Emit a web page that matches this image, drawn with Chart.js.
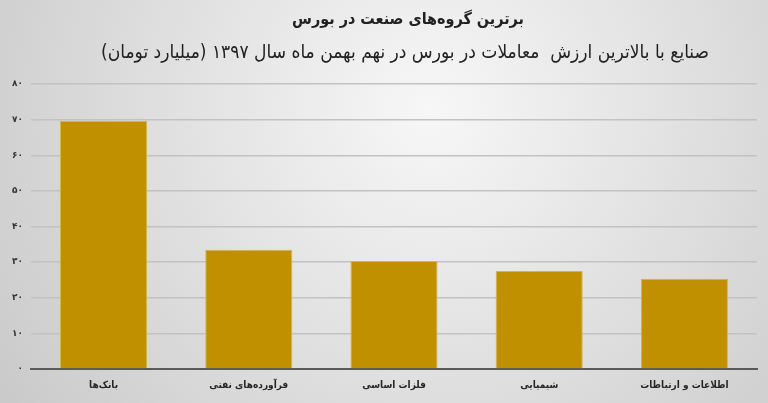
<!DOCTYPE html>
<html lang="fa">
  <head>
    <meta charset="UTF-8" />
    <title>برترین گروه‌های صنعت در بورس</title>
    <script src="https://cdn.jsdelivr.net/npm/chart.js"></script>
    <style>
      html, body { margin: 0; padding: 0; background: #d8d8d8; }
      #wrap { width: 768px; height: 403px; }
    </style>
  </head>
  <body>
    <div id="wrap"><canvas id="barChart" width="768" height="403"></canvas></div>

    <script>
      // data
      const categories = ['بانک‌ها', 'فرآورده‌های نفتی', 'فلزات اساسی', 'شیمیایی', 'اطلاعات و ارتباطات'];
      const values = [69.6, 33.5, 30.3, 27.5, 25.3];
      const yTicks = [0, 10, 20, 30, 40, 50, 60, 70, 80];
      const titleText = 'برترین گروه‌های صنعت در بورس';
      const subtitleText = 'صنایع با بالاترین ارزش  معاملات در بورس در نهم بهمن ماه سال ۱۳۹۷ (میلیارد تومان)';

      const faDigits = '۰۱۲۳۴۵۶۷۸۹';
      const toFa = n => String(n).replace(/\d/g, d => faDigits[d]);
      const fontFamily = "'DejaVu Sans', sans-serif";
      const condFamily = "'DejaVu Sans Condensed', 'DejaVu Sans', sans-serif";

      // gray radial background
      const bgPlugin = {
        id: 'bg',
        beforeDraw(chart) {
          const { ctx, width, height } = chart;
          const g = ctx.createRadialGradient(430, 110, 0, 430, 110, 560);
          g.addColorStop(0, '#f7f7f7');
          g.addColorStop(1, '#c6c6c6');
          ctx.save();
          ctx.fillStyle = g;
          ctx.fillRect(0, 0, width, height);
          ctx.restore();
        }
      };

      // titles, centred a bit right of the canvas middle as in the picture
      const titlesPlugin = {
        id: 'titles',
        afterDraw(chart) {
          const ctx = chart.ctx;
          ctx.save();
          ctx.fillStyle = '#222222';
          ctx.textAlign = 'center';
          ctx.textBaseline = 'middle';
          ctx.direction = 'rtl';
          ctx.font = 'bold 16px ' + condFamily;
          ctx.fillText(titleText, 408, 20);
          ctx.font = '19px ' + condFamily;
          ctx.fillText(subtitleText, 405, 53);
          ctx.restore();
        }
      };

      new Chart(document.getElementById('barChart'), {
        type: 'bar',
        data: {
          labels: categories,
          datasets: [{
            data: values,
            backgroundColor: '#c09000',
            borderColor: '#d9b448',
            borderWidth: 1,
            barPercentage: 0.6,
            categoryPercentage: 1.0
          }]
        },
        options: {
          responsive: false,
          animation: false,
          layout: { padding: { top: 84, left: 4, right: 11, bottom: 0 } },
          plugins: {
            legend: { display: false },
            tooltip: { enabled: false }
          },
          scales: {
            x: {
              afterFit(axis) { axis.height = 34; },
              grid: { display: false },
              border: { display: true, color: '#5a5a5a', width: 2 },
              ticks: {
                color: '#262626',
                padding: 2,
                maxRotation: 0,
                font: { family: condFamily, size: 10, weight: 'bold' }
              }
            },
            y: {
              min: 0,
              max: 80,
              afterBuildTicks(axis) {
                axis.ticks = yTicks.map(v => ({ value: v }));
              },
              grid: { color: '#c2c2c2', lineWidth: 1.5, drawTicks: false },
              border: { display: false },
              ticks: {
                color: '#333333',
                padding: 8,
                font: { family: fontFamily, size: 9, weight: 'bold' },
                callback: v => toFa(v)
              }
            }
          }
        },
        plugins: [bgPlugin, titlesPlugin]
      });
    </script>
  </body>
</html>
